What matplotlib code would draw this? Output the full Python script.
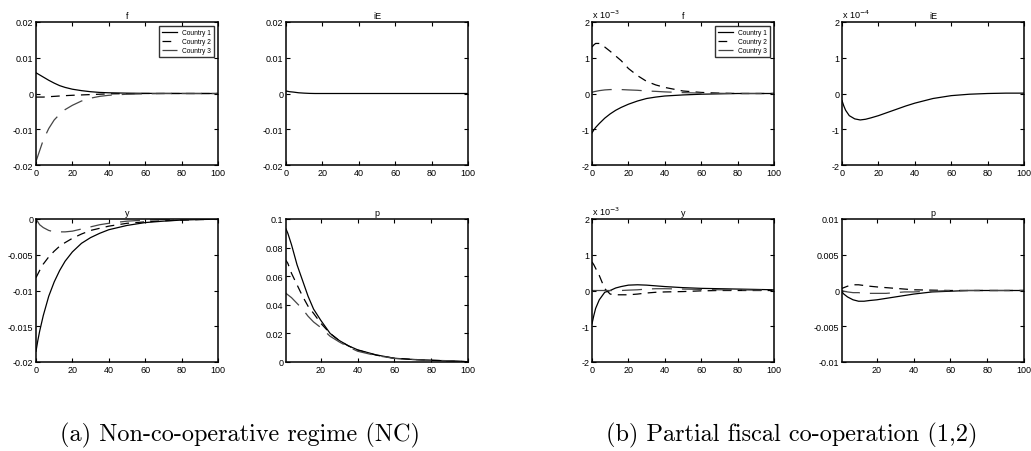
import matplotlib.pyplot as plt

plt.rcParams['font.family'] = ['Liberation Sans', 'DejaVu Sans']

# time grid the values were read on
t = [0, 1, 2, 4, 7, 10, 13, 16, 20, 25, 30, 35, 40, 50, 60, 70, 80, 90, 100]
countries = ['Country 1', 'Country 2', 'Country 3']

# (a) non-co-operative regime
f_nc_1 = [0.0058, 0.0055, 0.0052, 0.0046, 0.0037, 0.0029, 0.0022, 0.0017, 0.0012, 0.0008, 0.0005, 0.0003, 0.0002, 0.0001, 0.00004, 0.00002, 0.00001, 0, 0]
f_nc_2 = [-0.0010, -0.0010, -0.0010, -0.0010, -0.0009, -0.0008, -0.0007, -0.0006, -0.0005, -0.0004, -0.0003, -0.0002, -0.0001, -0.00005, 0, 0, 0, 0, 0]
f_nc_3 = [-0.0190, -0.0175, -0.0160, -0.0130, -0.0098, -0.0074, -0.0058, -0.0045, -0.0033, -0.0021, -0.0013, -0.0008, -0.0005, -0.0002, -0.0001, 0, 0, 0, 0]
iE_nc = [0.0007, 0.0006, 0.0005, 0.0004, 0.0002, 0.0001, 0.00003, 0, 0, 0, 0, 0, 0, 0, 0, 0, 0, 0, 0]
y_nc_1 = [-0.0185, -0.0170, -0.0157, -0.0135, -0.0108, -0.0088, -0.0072, -0.0059, -0.0046, -0.0034, -0.0026, -0.0020, -0.0015, -0.0009, -0.0005, -0.0003, -0.00015, -0.00007, -0.00003]
y_nc_2 = [-0.0082, -0.0077, -0.0072, -0.0063, -0.0053, -0.0045, -0.0038, -0.0033, -0.0027, -0.0021, -0.0016, -0.0013, -0.0010, -0.0006, -0.0004, -0.00025, -0.00015, -0.00008, -0.00004]
y_nc_3 = [0, -0.0004, -0.0008, -0.0012, -0.0016, -0.0018, -0.0018, -0.0018, -0.0017, -0.0014, -0.0011, -0.0008, -0.0006, -0.0003, -0.00015, -0.00008, -0.00004, -0.00002, 0]
p_nc_1 = [0.095, 0.093, 0.090, 0.082, 0.068, 0.057, 0.046, 0.037, 0.029, 0.020, 0.0150, 0.0113, 0.0085, 0.0050, 0.0026, 0.0018, 0.0012, 0.0008, 0.0002]
p_nc_2 = [0.072, 0.071, 0.069, 0.062, 0.054, 0.046, 0.039, 0.034, 0.027, 0.020, 0.0148, 0.0112, 0.0083, 0.0048, 0.0026, 0.0018, 0.0012, 0.0008, 0.0002]
p_nc_3 = [0.049, 0.048, 0.047, 0.045, 0.041, 0.037, 0.032, 0.028, 0.024, 0.018, 0.0140, 0.0105, 0.0075, 0.0045, 0.0025, 0.0017, 0.0012, 0.0009, 0.0002]

# (b) partial fiscal co-operation (1,2); f, iE, y in scaled units
f_pc_1 = [-1.10, -1.02, -0.95, -0.84, -0.69, -0.57, -0.47, -0.39, -0.30, -0.21, -0.14, -0.10, -0.07, -0.04, -0.02, -0.01, 0, 0, 0]
f_pc_2 = [1.30, 1.36, 1.40, 1.40, 1.30, 1.18, 1.05, 0.92, 0.70, 0.50, 0.34, 0.24, 0.17, 0.07, 0.03, 0.01, 0, 0, 0]
f_pc_3 = [0.03, 0.05, 0.06, 0.08, 0.10, 0.11, 0.11, 0.11, 0.10, 0.09, 0.07, 0.06, 0.045, 0.025, 0.01, 0.005, 0, 0, 0]
iE_pc = [-0.20, -0.35, -0.47, -0.62, -0.71, -0.74, -0.72, -0.68, -0.62, -0.53, -0.44, -0.35, -0.27, -0.14, -0.06, -0.02, 0, 0.01, 0.01]
y_pc_1 = [-0.93, -0.70, -0.50, -0.26, -0.05, 0.0, 0.07, 0.11, 0.15, 0.16, 0.15, 0.13, 0.11, 0.08, 0.06, 0.05, 0.04, 0.03, 0.02]
y_pc_2 = [0.80, 0.72, 0.62, 0.42, 0.05, -0.10, -0.12, -0.12, -0.12, -0.10, -0.07, -0.05, -0.04, -0.03, -0.01, 0, 0, 0, 0]
y_pc_3 = [0, 0, 0, 0, 0, 0, 0, 0, 0.01, 0.02, 0.04, 0.05, 0.05, 0.04, 0.03, 0.02, 0.02, 0.01, 0.01]
p_pc_1 = [0, -0.0002, -0.0005, -0.0009, -0.0013, -0.0015, -0.0015, -0.0014, -0.0013, -0.0011, -0.0009, -0.0007, -0.0005, -0.0002, -0.0001, 0, 0, 0, 0]
p_pc_2 = [0.0002, 0.0003, 0.0004, 0.0006, 0.0008, 0.0008, 0.0007, 0.0006, 0.0005, 0.0004, 0.0003, 0.0002, 0.0001, 0.00005, 0, 0, 0, 0, 0]
p_pc_3 = [0, 0, -0.0001, -0.0002, -0.0003, -0.0003, -0.0004, -0.0004, -0.0004, -0.0004, -0.0003, -0.0002, -0.0002, -0.0001, 0, 0, 0, 0, 0]

styles = [dict(color='black', ls='-'),
          dict(color='black', ls=(0, (7, 5))),
          dict(color='#454545', ls=(0, (16, 8)))]


def panel(rect, title, series, yticks, ylabels, xstart=0, legend=False, scale=None):
    ax = fig.add_axes(rect)
    for i, s in enumerate(series):
        ax.plot(t, s, lw=0.9, label=countries[i], **styles[i])
    ax.set_xlim(xstart, 100)
    ax.set_ylim(yticks[0], yticks[-1])
    xt = [0, 20, 40, 60, 80, 100] if xstart == 0 else [20, 40, 60, 80, 100]
    ax.set_xticks(xt)
    ax.set_xticklabels([str(v) for v in xt])
    ax.set_yticks(yticks)
    ax.set_yticklabels(ylabels)
    ax.tick_params(direction='in', length=3, width=0.8, labelsize=6.5,
                   top=True, right=True, pad=2)
    for sp in ax.spines.values():
        sp.set_linewidth(1.1)
    ax.set_title(title, fontsize=6.5, pad=3)
    if scale:
        ax.text(0, 1.015, scale, transform=ax.transAxes, fontsize=6.5,
                ha='left', va='bottom')
    if legend:
        ax.legend(loc='upper right', fontsize=4.8, frameon=True, fancybox=False,
                  edgecolor='black', handlelength=2.2, borderpad=0.45,
                  labelspacing=0.3, borderaxespad=0.6).get_frame().set_linewidth(1.0)
    return ax


fig = plt.figure(figsize=(10.31, 4.52), dpi=100)

W, H = 1031, 452
aw, ah = 182 / W, 143 / H
top_b, bot_b = (452 - 166) / H, (452 - 363) / H

f_ticks = [-0.02, -0.01, 0, 0.01, 0.02]
f_lab = ['-0.02', '-0.01', '0', '0.01', '0.02']
panel([36 / W, top_b, aw, ah], 'f', [f_nc_1, f_nc_2, f_nc_3], f_ticks, f_lab, legend=True)
panel([286 / W, top_b, aw, ah], 'iE', [iE_nc], f_ticks, f_lab)
panel([36 / W, bot_b, aw, ah], 'y', [y_nc_1, y_nc_2, y_nc_3],
      [-0.02, -0.015, -0.01, -0.005, 0], ['-0.02', '-0.015', '-0.01', '-0.005', '0'])
panel([286 / W, bot_b, aw, ah], 'p', [p_nc_1, p_nc_2, p_nc_3],
      [0, 0.02, 0.04, 0.06, 0.08, 0.1], ['0', '0.02', '0.04', '0.06', '0.08', '0.1'], xstart=1)

s_ticks = [-2, -1, 0, 1, 2]
s_lab = ['-2', '-1', '0', '1', '2']
panel([592 / W, top_b, aw, ah], 'f', [f_pc_1, f_pc_2, f_pc_3], s_ticks, s_lab,
      legend=True, scale=r'x 10$^{-3}$')
panel([842 / W, top_b, aw, ah], 'iE', [iE_pc], s_ticks, s_lab, scale=r'x 10$^{-4}$')
panel([592 / W, bot_b, aw, ah], 'y', [y_pc_1, y_pc_2, y_pc_3], s_ticks, s_lab,
      scale=r'x 10$^{-3}$')
panel([842 / W, bot_b, aw, ah], 'p', [p_pc_1, p_pc_2, p_pc_3],
      [-0.01, -0.005, 0, 0.005, 0.01], ['-0.01', '-0.005', '0', '0.005', '0.01'], xstart=1)

fig.text(240 / W, (452 - 435) / H, '(a) Non-co-operative regime (NC)',
         family='cmr10', fontsize=17.5, ha='center', va='center')
fig.text(792 / W, (452 - 435) / H, '(b) Partial fiscal co-operation (1,2)',
         family='cmr10', fontsize=17.5, ha='center', va='center')

fig.savefig('out.png', dpi=100)
